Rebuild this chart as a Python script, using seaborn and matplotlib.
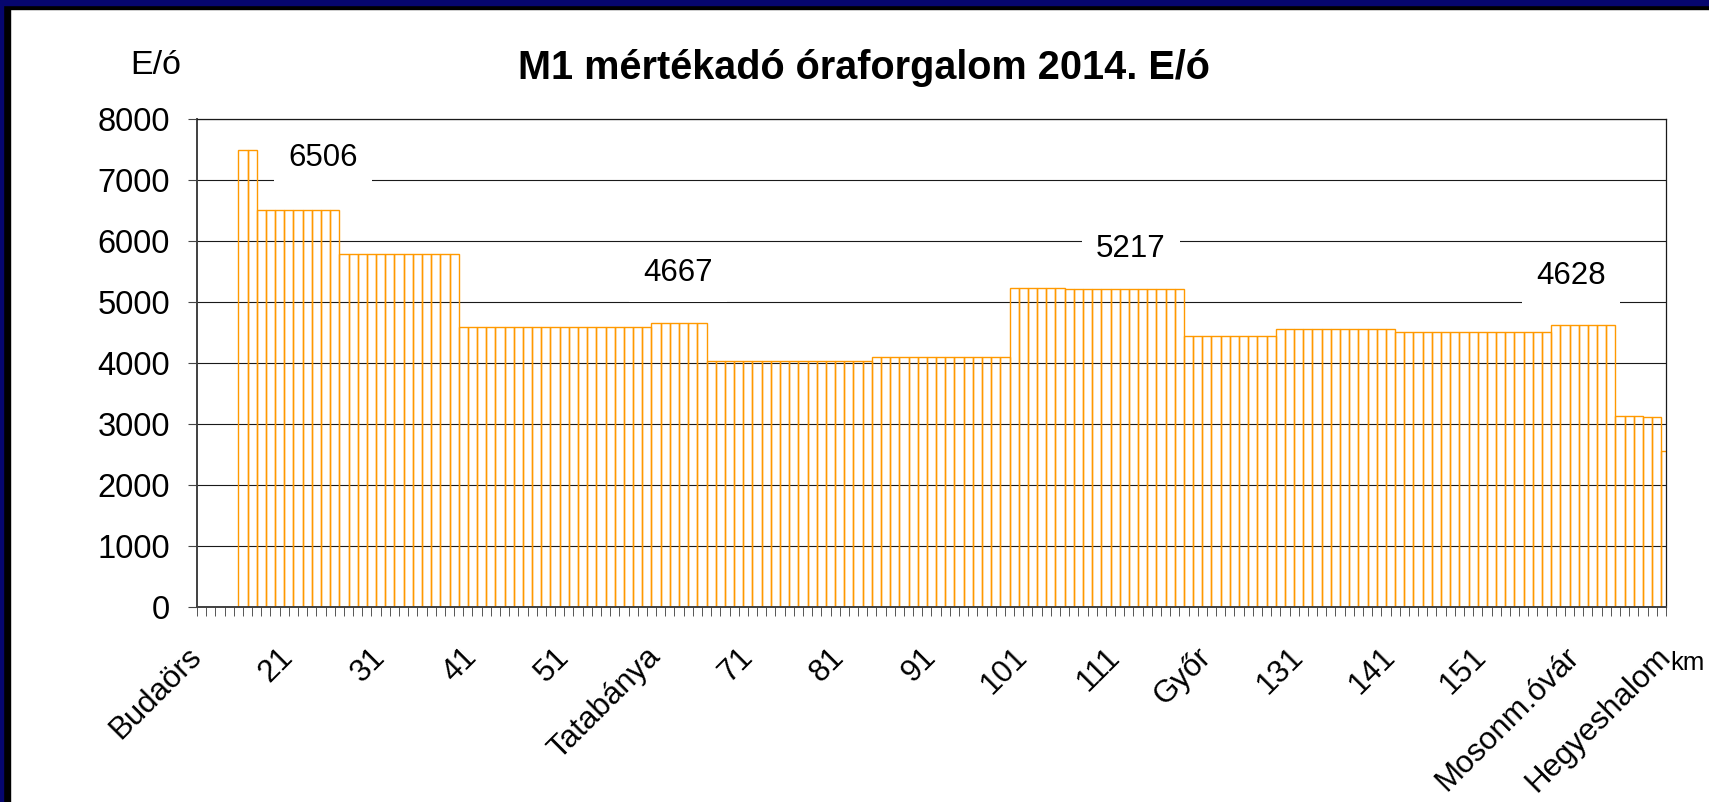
import numpy as np
import pandas as pd
import seaborn as sns
import matplotlib.pyplot as plt
from matplotlib.patches import Rectangle

# km posts along the axis (one category per km)
km_posts = list(range(11, 172))

# road sections: first km, last km, hourly flow (E/ó)
section_start = [16, 18, 27, 40, 61, 67, 85, 100, 106, 119, 129, 142, 159, 166, 169, 171]
section_end = [17, 26, 39, 60, 66, 84, 99, 105, 118, 128, 141, 158, 165, 168, 170, 171]
section_flow = [7490, 6506, 5800, 4590, 4667, 4045, 4110, 5240, 5217, 4455, 4560, 4520, 4628, 3142, 3115, 2570]

# axis labels every 10 km
tick_labels = ["Budaörs", "21", "31", "41", "51", "Tatabánya", "71", "81", "91",
               "101", "111", "Győr", "131", "141", "151", "Mosonm.óvár", "Hegyeshalom"]

# value labels written on the chart
note_text = ["6506", "4667", "5217", "4628"]

# build per-km table
flow = []
for km in km_posts:
    val = np.nan
    for s, e, f in zip(section_start, section_end, section_flow):
        if s <= km <= e:
            val = f
    flow.append(val)
df = pd.DataFrame({"km": [str(k) for k in km_posts], "flow": flow})

sns.set_style("white")
plt.rcParams["font.family"] = ["Liberation Sans", "DejaVu Sans"]
plt.rcParams["text.color"] = "black"

fig = plt.figure(figsize=(17.09, 8.02), dpi=100)
ax = fig.add_axes([0.1153, 0.2428, 0.8595, 0.6084])

sns.barplot(data=df, x="km", y="flow", order=df["km"], fill=False,
            color="#FF9900", width=1.0, linewidth=1.0, errorbar=None, ax=ax)

ax.set_xlim(0, len(km_posts) - 1)
ax.set_ylim(0, 8000)
ax.set_yticks(np.arange(0, 8001, 1000))
ax.set_xticks(np.arange(len(km_posts)), minor=True)
ax.set_xticks(np.arange(0, len(km_posts), 10))
ax.set_xticklabels(tick_labels, rotation=45, ha="right", va="center",
                   rotation_mode="anchor")
ax.set_xlabel("")
ax.set_ylabel("")

ax.grid(axis="y", color="#1a1a1a", linewidth=0.8)
ax.set_axisbelow(True)
ax.tick_params(axis="y", labelsize=23.5, length=6.5, width=0.8, pad=13,
               color="#444444", labelcolor="black", left=True)
ax.tick_params(axis="x", which="both", length=6.5, width=0.7, color="#555555",
               bottom=True)
ax.tick_params(axis="x", which="major", labelsize=22.5, pad=26, labelcolor="black")
for side in ["left", "bottom"]:
    ax.spines[side].set_color("#404040")
    ax.spines[side].set_linewidth(1.4)
for side in ["top", "right"]:
    ax.spines[side].set_color("#1a1a1a")
    ax.spines[side].set_linewidth(0.9)

# value labels with white boxes over the grid
note_x = [13.7, 52.4, 101.7, 149.7]
note_y = [7366, 5485, 5869, 5436]
for t, x, y in zip(note_text, note_x, note_y):
    ax.text(x, y, t, ha="center", va="center", fontsize=22.5,
            bbox=dict(boxstyle="square,pad=0.45", fc="white", ec="none"))

W, H = 1709, 802
fig.text(864 / W, 1 - 79 / H, "M1 mértékadó óraforgalom 2014. E/ó",
         ha="center", va="baseline", fontsize=28.5, fontweight="bold")
fig.text(156 / W, 1 - 74 / H, "E/ó", ha="center", va="baseline", fontsize=24.5)
fig.text(1670 / W, 1 - 670 / H, "km", ha="left", va="baseline", fontsize=18.5)

# slide frame at the left and top edges
fig.patches.append(Rectangle((0, 0), 10 / W, 1, transform=fig.transFigure,
                             color="black", zorder=0))
fig.patches.append(Rectangle((0, 1 - 8.5 / H), 1, 8.5 / H, transform=fig.transFigure,
                             color="black", zorder=0))
fig.patches.append(Rectangle((0, 0), 3 / W, 1, transform=fig.transFigure,
                             color="#06066e", zorder=1))
fig.patches.append(Rectangle((0, 1 - 4.5 / H), 1, 4.5 / H, transform=fig.transFigure,
                             color="#06066e", zorder=1))

fig.savefig("out.png", dpi=100)
